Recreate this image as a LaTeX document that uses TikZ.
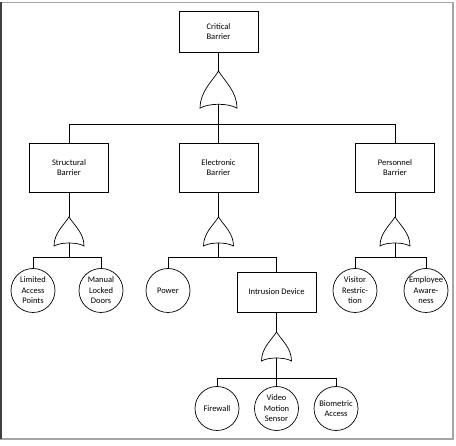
\documentclass[tikz,border=0pt]{standalone}
\usepackage{fontspec}
\setmainfont{Carlito}
\usepackage{tikz}
\usetikzlibrary{positioning}

\tikzset{
  box/.style={draw, align=center, minimum width=79pt, minimum height=49pt, inner sep=1pt},
  event/.style={draw, circle, align=center, minimum size=44pt, inner sep=0pt},
  orgate/.pic={
    \draw (0,0) .. controls (-5,8) and (-15,16) .. (-15,29)
          .. controls (-8,25) and (8,25) .. (15,29)
          .. controls (15,16) and (5,8) .. (0,0) -- cycle;
    \coordinate (-top) at (0,0);
    \coordinate (-bot) at (0,26);
  }
}

\begin{document}
\begin{tikzpicture}[x=1pt, y=-1pt, line width=0.7pt, font=\fontsize{8.5}{10.5}\selectfont]
    \useasboundingbox (0,0) rectangle (456,446);

    % Frame
    \draw[gray!70, line width=1.2pt] (1,2.5) rectangle (453,439);
    \draw[black!75, line width=1.5pt] (1,2.5) -- (1,439);

    % Top event
    \node[box, minimum height=41pt] (crit) at (218.5,31.5) {Critical\\Barrier};
    \pic[xscale=1.23, yscale=1.28] (gc) at (218.5,71) {orgate};
    \coordinate (j0) at (218.5,124);

    % Barriers
    \node[box] (struct) at (69,167.5) {Structural\\Barrier};
    \node[box] (elec) at (218.5,167.5) {Electronic\\Barrier};
    \node[box] (pers) at (395,167.5) {Personnel\\Barrier};

    \draw (crit) -- (gc-top);
    \draw (gc-bot) -- (j0);
    \draw (j0) -| (struct);
    \draw (j0) -- (elec);
    \draw (j0) -| (pers);

    % Gates below barriers
    \pic (gs) at (69,217) {orgate};
    \pic (ge) at (218.5,217) {orgate};
    \pic (gp) at (395,217) {orgate};
    \coordinate (js) at (69,257);
    \coordinate (je) at (218.5,257);
    \coordinate (jp) at (395,257);

    \draw (struct) -- (gs-top);
    \draw (elec) -- (ge-top);
    \draw (pers) -- (gp-top);
    \draw (gs-bot) -- (js);
    \draw (ge-bot) -- (je);
    \draw (gp-bot) -- (jp);

    % Structural
    \node[event] (lim) at (33,290.5) {Limited\\Access\\Points};
    \node[event] (man) at (101,290.5) {Manual\\Locked\\Doors};
    \draw (js) -| (lim);
    \draw (js) -| (man);

    % Electronic
    \node[event] (pow) at (168,290.5) {Power};
    \node[box, minimum height=40pt] (intr) at (276.5,292) {Intrusion Device};
    \draw (je) -| (pow);
    \draw (je) -| (intr);

    % Personnel
    \node[event] (vis) at (355,290.5) {Visitor\\Restric-\\tion};
    \node[event] (emp) at (426,290.5) {Employee\\Aware-\\ness};
    \draw (jp) -| (vis);
    \draw (jp) -| (emp);

    % Intrusion device
    \pic (gi) at (276.5,332) {orgate};
    \coordinate (ji) at (276.5,378);
    \draw (intr) -- (gi-top);
    \draw (gi-bot) -- (ji);

    \node[event] (fire) at (217,408.5) {Firewall};
    \node[event] (vid) at (276.5,408.5) {Video\\Motion\\Sensor};
    \node[event] (bio) at (336,408.5) {Biometric\\Access};
    \draw (ji) -| (fire);
    \draw (ji) -- (vid);
    \draw (ji) -| (bio);
\end{tikzpicture}
\end{document}
